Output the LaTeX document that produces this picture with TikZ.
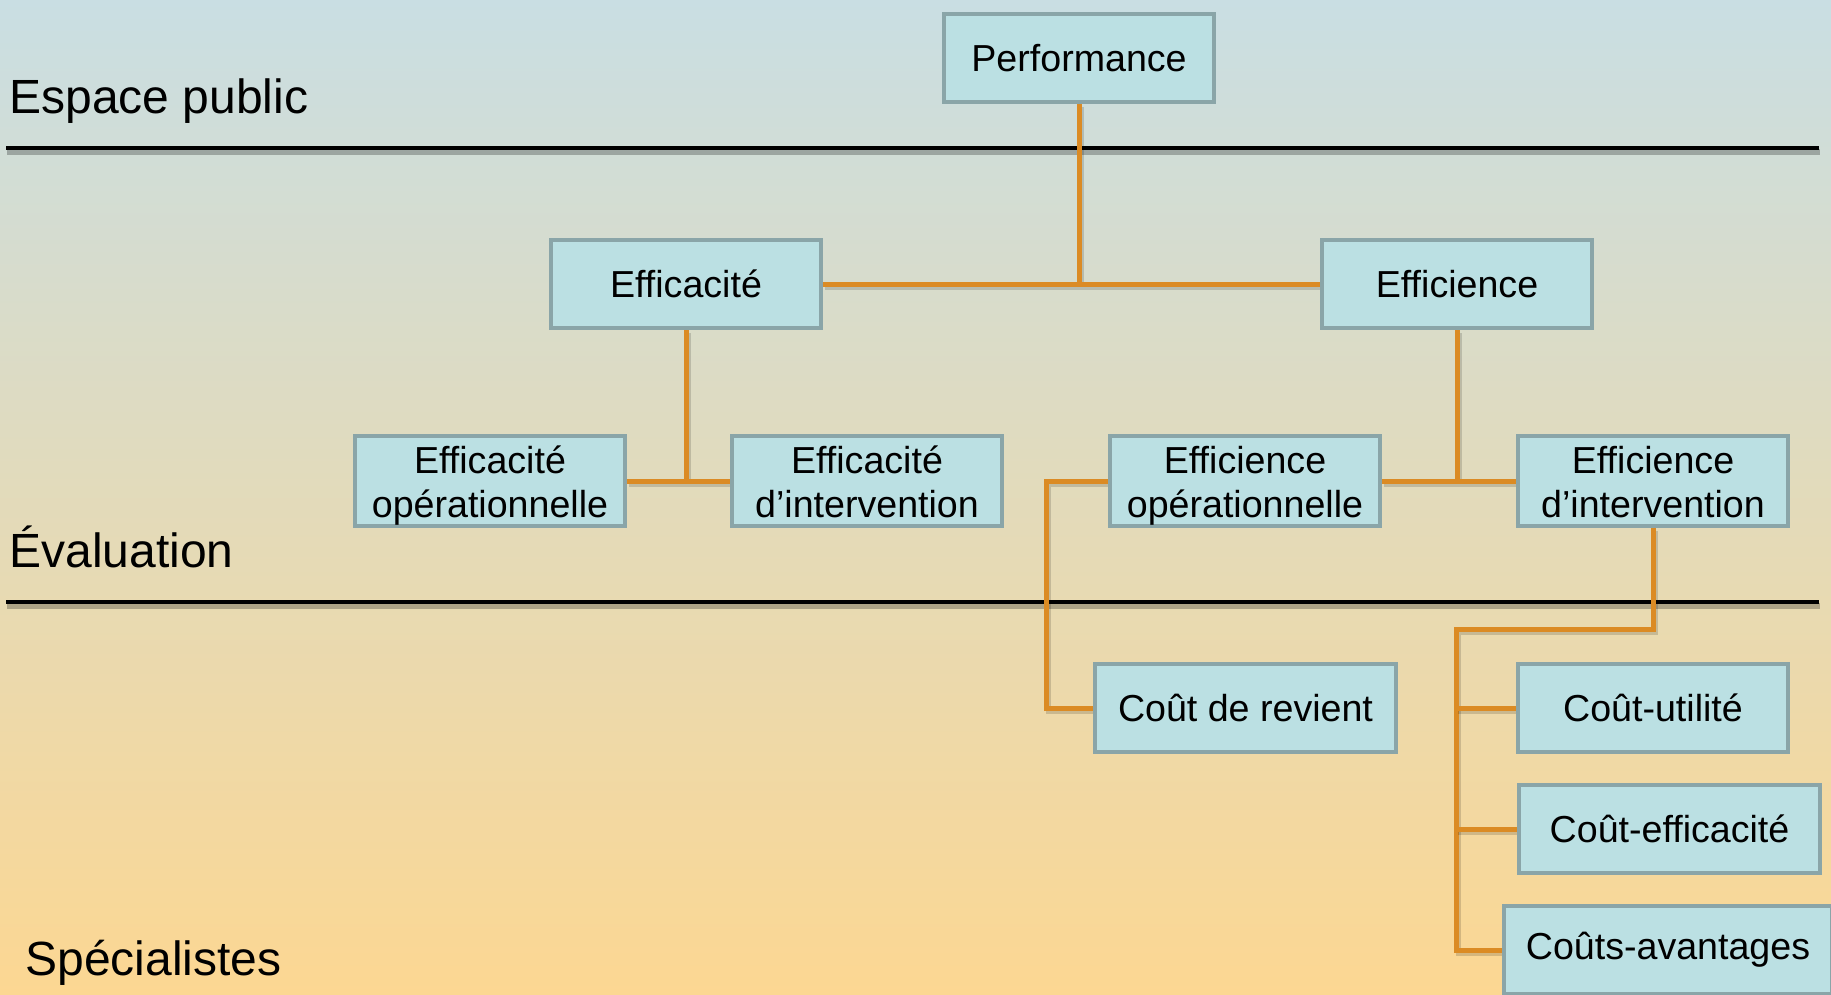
\documentclass[tikz,border=0pt]{standalone}
\usepackage{fontspec}
\setmainfont{Liberation Sans}
\usetikzlibrary{calc}
\definecolor{bgtop}{HTML}{C9DEE3}
\definecolor{bgmid}{HTML}{E2DCC4}
\definecolor{bgbot}{HTML}{FCD792}
\definecolor{boxfill}{HTML}{BBE0E3}
\definecolor{boxline}{HTML}{8AA5A8}
\definecolor{conn}{HTML}{DB8B24}
\pgfdeclarelayer{bg}
\pgfdeclarelayer{back}
\pgfsetlayers{back,bg,main}
\newcommand{\toprule}{\rule{0pt}{19pt}}
\newcommand{\botrule}{\rule[-4.4pt]{0pt}{4.4pt}}
\begin{document}
\begin{tikzpicture}[x=0.5pt,y=-0.5pt,
  box/.style={draw=boxline, fill=boxfill, line width=2pt, minimum width=135pt,
    minimum height=44pt, inner sep=0pt, align=center,
    font=\fontsize{18.8}{22}\selectfont},
  widebox/.style={box, minimum width=150.5pt},
  lbl/.style={anchor=base west, inner sep=0pt, font=\fontsize{24}{28}\selectfont},
  link/.style={draw=conn, line width=2.5pt,
    preaction={draw=black, opacity=.15, line width=2.5pt,
      transform canvas={shift={(1pt,-1.5pt)}}}},
  rule/.style={draw=black, line width=2.3pt,
    preaction={draw=black, opacity=.25, line width=2.6pt,
      transform canvas={shift={(0.5pt,-2pt)}}}}
]
\useasboundingbox (0,0) rectangle (1831,995);
\clip (0,0) rectangle (1831,995);

% nodes
\node[box] (perf) at (1079,58) {Performance};
\node[box] (effa) at (686,284) {Efficacité};
\node[box] (effe) at (1457,284) {Efficience};
\node[box] (eaop) at (490,481) {\toprule Efficacité\\opérationnelle\botrule};
\node[box] (eaint) at (867,481) {\toprule Efficacité\\d’intervention\botrule};
\node[box] (eeop) at (1245,481) {\toprule Efficience\\opérationnelle\botrule};
\node[box] (eeint) at (1653,481) {\toprule Efficience\\d’intervention\botrule};
\node[widebox] (cdr) at (1245.5,708) {Coût de revient};
\node[box] (cu) at (1653,708) {Coût-utilité};
\node[widebox] (ce) at (1669.5,829) {Coût-efficacité};
\node[box, minimum width=164pt] (cav) at (1668,950) {Coûts-avantages};

% zone labels
\node[lbl] (l1) at (9,113) {Espace public};
\node[lbl] (l2) at (9,567) {Évaluation};
\node[lbl] (l3) at (25,975) {Spécialistes};

\coordinate (j1) at (1046,481);
\coordinate (j2) at (1456,629);
\coordinate (r1a) at (6,148);
\coordinate (r1b) at (1819,148);
\coordinate (r2a) at (6,602);
\coordinate (r2b) at (1819,602);

\begin{pgfonlayer}{back}
  \shade[top color=bgtop, middle color=bgmid, bottom color=bgbot] (0,0) rectangle (1831,995);
\end{pgfonlayer}

\begin{pgfonlayer}{bg}
  \path[rule] (r1a) -- (r1b);
  \path[rule] (r2a) -- (r2b);
  \path[link] (perf.south) -- (perf.south |- effa.east);
  \path[link] (effa.east) -- (effe.west);
  \path[link] (effa.south) -- (effa.south |- eaop.east);
  \path[link] (eaop.east) -- (eaint.west);
  \path[link] (effe.south) -- (effe.south |- eeop.east);
  \path[link] (eeop.east) -- (eeint.west);
  \path[link] (eeop.west) -- (j1) |- (cdr.west);
  \path[link] (eeint.south) -- (eeint.south |- j2) -- (j2) -- (j2 |- cav.west) -- (cav.west);
  \path[link] (j2 |- cu.west) -- (cu.west);
  \path[link] (j2 |- ce.west) -- (ce.west);
\end{pgfonlayer}
\end{tikzpicture}
\end{document}
